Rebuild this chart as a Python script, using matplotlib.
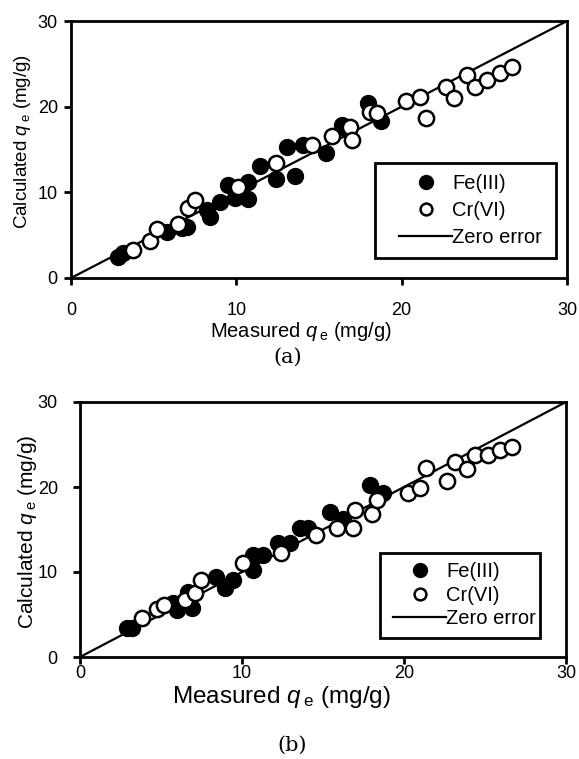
import matplotlib
matplotlib.use("Agg")
import matplotlib.pyplot as plt
from matplotlib.lines import Line2D
from matplotlib.patches import Rectangle

plt.rcParams["font.family"] = "Liberation Sans"
plt.rcParams["mathtext.fontset"] = "custom"
plt.rcParams["mathtext.rm"] = "Liberation Sans"
plt.rcParams["mathtext.it"] = "Liberation Sans:italic"

# ---- data (a) ----
a_fe_x = [2.86, 3.17, 5.79, 6.69, 7.0, 8.2, 8.41, 9.01, 9.52, 9.92, 10.73, 10.73,
          11.43, 12.4, 13.05, 13.55, 14.05, 15.42, 16.38, 16.6, 17.99, 18.75]
a_fe_y = [2.49, 2.88, 5.40, 5.79, 5.99, 7.93, 7.16, 8.90, 10.85, 9.30, 11.24, 9.18,
          13.1, 11.55, 15.3, 11.9, 15.52, 14.55, 17.85, 17.5, 20.38, 18.3]
a_cr_x = [3.77, 4.78, 5.18, 6.45, 7.10, 7.50, 10.12, 12.37, 14.58, 15.8, 16.88, 16.98,
          18.1, 18.49, 20.25, 21.1, 21.45, 22.69, 23.17, 23.94, 24.44, 25.15, 25.95, 26.66]
a_cr_y = [3.27, 4.32, 5.72, 6.27, 8.13, 9.10, 10.65, 13.38, 15.55, 16.6, 17.6, 16.1,
          19.4, 19.3, 20.7, 21.16, 18.7, 22.32, 21.04, 23.69, 22.32, 23.10, 23.89, 24.66]

# ---- data (b) ----
b_fe_x = [2.88, 3.19, 5.76, 5.97, 6.89, 6.69, 8.38, 8.95, 9.46, 10.70, 10.70, 11.32,
          12.24, 12.96, 13.58, 14.09, 15.43, 16.25, 17.90, 18.72]
b_fe_y = [3.37, 3.37, 6.31, 5.52, 5.72, 7.6, 9.44, 8.16, 9.05, 12.0, 10.22, 11.99,
          13.36, 13.36, 15.12, 15.12, 17.07, 16.29, 20.21, 19.24]
b_cr_x = [3.81, 4.75, 5.17, 6.48, 7.10, 7.44, 10.06, 12.38, 14.58, 15.84, 16.87, 16.97,
          18.0, 18.31, 20.27, 21.0, 21.35, 22.63, 23.15, 23.87, 24.38, 25.20, 25.93, 26.65]
b_cr_y = [4.55, 5.68, 6.11, 6.74, 7.52, 9.09, 11.04, 12.25, 14.34, 15.12, 15.12, 17.27,
          16.88, 18.45, 19.24, 19.84, 22.2, 20.65, 22.95, 22.17, 23.73, 23.73, 24.32, 24.71]

ticks = [0, 10, 20, 30]
xlab = r"Measured $q\,$$_{\rm e}$ (mg/g)"
ylab = r"Calculated $q\,$$_{\rm e}$ (mg/g)"

fig = plt.figure(figsize=(5.79, 7.59), dpi=100)
ax1 = fig.add_axes([71 / 579, 1 - 278 / 759, 496 / 579, 257 / 759])
ax2 = fig.add_axes([80 / 579, 1 - 657 / 759, 486 / 579, 255 / 759])


def draw(ax, fe_x, fe_y, cr_x, cr_y, ypad, xpad, box, leg_anchor, leg_sp):
    ax.plot([0, 30], [0, 30], color="black", lw=1.6, zorder=1)
    ax.scatter(fe_x, fe_y, s=120, c="black", edgecolors="black", lw=1.5, zorder=3)
    ax.scatter(cr_x, cr_y, s=120, c="white", edgecolors="black", lw=1.8, zorder=4)
    ax.set_xlim(0, 30)
    ax.set_ylim(0, 30)
    ax.set_xticks(ticks)
    ax.set_yticks(ticks)
    for s in ax.spines.values():
        s.set_linewidth(2)
    ax.tick_params(direction="out", length=5, width=2, labelsize=13)
    ax.tick_params(axis="x", pad=xpad)
    ax.tick_params(axis="y", pad=ypad)

    # legend frame
    ax.add_patch(Rectangle(box[:2], box[2], box[3], transform=ax.transAxes,
                           facecolor="white", edgecolor="black", lw=2, zorder=5))
    handles = [
        Line2D([], [], ls="none", marker="o", ms=9.5, mfc="black", mec="black", mew=1.5),
        Line2D([], [], ls="none", marker="o", ms=8.5, mfc="white", mec="black", mew=1.8),
        Line2D([], [], color="black", lw=1.6),
    ]
    leg = ax.legend(handles, ["Fe(III)", "Cr(VI)", "Zero error"], loc="upper left",
                    bbox_to_anchor=leg_anchor, fontsize=14.5, frameon=False,
                    handlelength=2.65, handletextpad=0.0, labelspacing=leg_sp,
                    borderpad=0, borderaxespad=0)
    leg.set_zorder(6)


draw(ax1, a_fe_x, a_fe_y, a_cr_x, a_cr_y, 4.5, 12,
     (0.613, 0.078, 0.365, 0.369), (0.661, 0.405), 0.4)
ax1.set_xlabel(xlab, fontsize=14.5)
ax1.xaxis.set_label_coords(0.464, -0.162)
ax1.set_ylabel(ylab, fontsize=13.5)
ax1.yaxis.set_label_coords(-0.076, 0.53)

draw(ax2, b_fe_x, b_fe_y, b_cr_x, b_cr_y, 11, 0.5,
     (0.617, 0.075, 0.33, 0.333), (0.644, 0.372), 0.22)
ax2.set_xlabel(xlab, fontsize=17.5)
ax2.xaxis.set_label_coords(0.414, -0.105)
ax2.set_ylabel(ylab, fontsize=15)
ax2.yaxis.set_label_coords(-0.085, 0.49)

fig.text(288 / 579, 1 - 357 / 759, "(a)", ha="center", va="center",
         fontsize=15, family="DejaVu Serif")
fig.text(292 / 579, 1 - 745 / 759, "(b)", ha="center", va="center",
         fontsize=15, family="DejaVu Serif")

fig.savefig("out.png", dpi=100)
